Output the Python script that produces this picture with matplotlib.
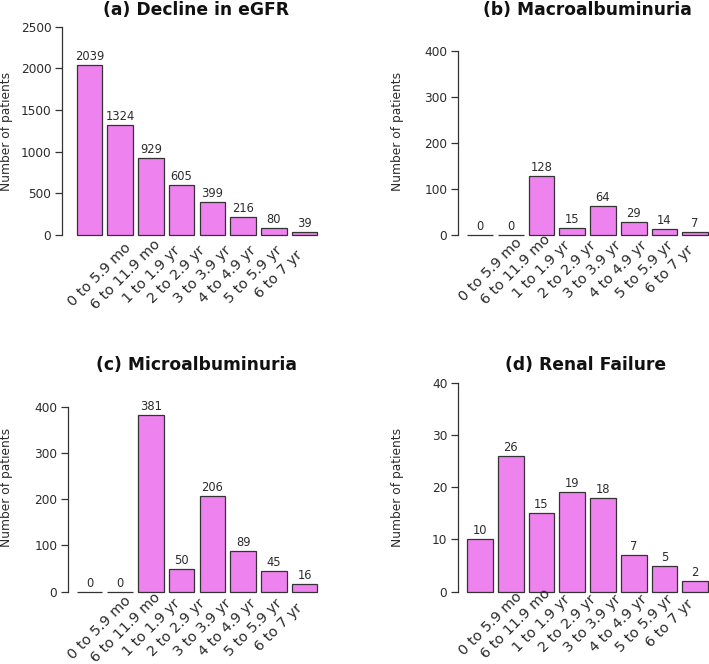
import matplotlib
matplotlib.use("Agg")
import matplotlib.pyplot as plt
import numpy as np

### Data

periods = ["0 to 5.9 mo", "6 to 11.9 mo", "1 to 1.9 yr", "2 to 2.9 yr",
           "3 to 3.9 yr", "4 to 4.9 yr", "5 to 5.9 yr", "6 to 7 yr"]

egfr = [2039, 1324, 929, 605, 399, 216, 80, 39]
macro = [0, 0, 128, 15, 64, 29, 14, 7]
micro = [0, 0, 381, 50, 206, 89, 45, 16]
renal = [10, 26, 15, 19, 18, 7, 5, 2]

titles = ["(a) Decline in eGFR", "(b) Macroalbuminuria",
          "(c) Microalbuminuria", "(d) Renal Failure"]
yticks_a = [0, 500, 1000, 1500, 2000, 2500]
yticks_b = [0, 100, 200, 300, 400]
yticks_c = [0, 100, 200, 300, 400]
yticks_d = [0, 10, 20, 30, 40]

### Layout (pixels of a 709x664 figure)

W, H = 709, 664
PX = 25.6  # pixels per bar unit (bar width 1, space 0.2)
BAR = "#EE82EE"
EDGE = "#333333"
TXT = "#2b2b2b"

plt.rcParams['font.family'] = ['DejaVu Sans']

fig = plt.figure(figsize=(W / 100, H / 100), dpi=100)

# spine x, zero-line y, top-tick y, x of bar unit 0, label drop (px), title centre
panels = [
    dict(vals=egfr, ticks=yticks_a, spine=61.7, y0=235.0, ytop=26.7, x0=71.6, drop=40,
         title=(196, 10), ylab=(7, 131)),
    dict(vals=macro, ticks=yticks_b, spine=457.7, y0=235.0, ytop=51.0, x0=462.2, drop=35,
         title=(587, 10), ylab=(397.5, 131)),
    dict(vals=micro, ticks=yticks_c, spine=67.7, y0=591.7, ytop=406.7, x0=71.6, drop=36,
         title=(196, 365), ylab=(7, 487)),
    dict(vals=renal, ticks=yticks_d, spine=457.7, y0=591.7, ytop=382.7, x0=462.2, drop=32,
         title=(586, 365), ylab=(397.5, 487)),
]

for p, title in zip(panels, titles):
    xl = (p["spine"] - p["x0"]) / PX
    xr = 9.65
    right = p["x0"] + xr * PX
    ax = fig.add_axes([p["spine"] / W, 1 - p["y0"] / H,
                       (right - p["spine"]) / W, (p["y0"] - p["ytop"]) / H])
    ax.patch.set_alpha(0)

    n = len(p["vals"])
    centers = 0.7 + 1.2 * np.arange(n)
    ax.bar(centers, p["vals"], width=1.0, color=BAR, edgecolor=EDGE,
           linewidth=0.9, clip_on=False)

    ax.set_xlim(xl, xr)
    ax.set_ylim(0, p["ticks"][-1])
    ax.set_yticks(p["ticks"])
    ax.set_xticks([])
    for s in ["top", "right", "bottom"]:
        ax.spines[s].set_visible(False)
    ax.spines["left"].set_color(EDGE)
    ax.spines["left"].set_linewidth(0.9)
    ax.tick_params(axis="y", direction="out", length=5, width=0.9, pad=2.5,
                   colors=EDGE, labelsize=8.7, labelcolor=TXT)

    # value labels on top of bars
    for c, v in zip(centers, p["vals"]):
        ax.annotate(str(v), xy=(c, v), xytext=(0, 3.6), textcoords="offset points",
                    ha="center", va="baseline", fontsize=8.3, color=TXT,
                    annotation_clip=False)

    # rotated category labels, centred (R text default adj)
    lab_x = 1.1 + 1.0 * np.arange(n)
    for lx, lab in zip(lab_x, periods):
        ax.annotate(lab, xy=(lx, 0), xytext=(0, -p["drop"] * 0.72),
                    textcoords="offset points", rotation=45, rotation_mode="anchor",
                    ha="center", va="center", fontsize=10.4, color=TXT,
                    annotation_clip=False)

    tx, ty = p["title"]
    fig.text(tx / W, 1 - ty / H, title, ha="center", va="center",
             fontsize=12.3, fontweight="bold", color="#111111")
    lx, ly = p["ylab"]
    fig.text(lx / W, 1 - ly / H, "Number of patients", rotation=90,
             ha="center", va="center", fontsize=8.8, color=TXT)

fig.savefig("out.png", dpi=100)
